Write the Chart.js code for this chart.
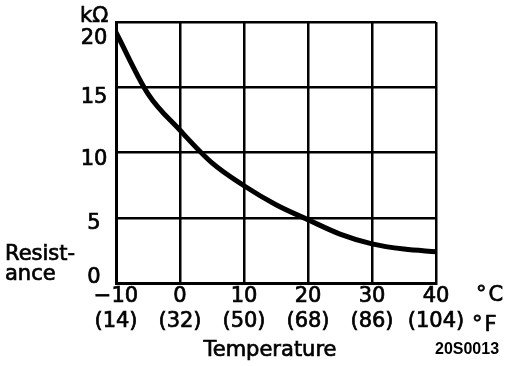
<!DOCTYPE html>
<html>
<head>
<meta charset="utf-8">
<script src="https://cdn.jsdelivr.net/npm/chart.js@4.4.1/dist/chart.umd.min.js"></script>
<style>
  html, body { margin: 0; padding: 0; background: #fff; }
</style>
</head>
<body>
<canvas id="chart" width="512" height="366"></canvas>
<script>
// thermistor curve, every 5 °C
const tempC = [-10, -5, 0, 5, 10, 15, 20, 25, 30, 35, 40];
const resistance = [19.2, 14.5, 11.7, 9.2, 7.45, 6.0, 4.85, 3.75, 3.0, 2.6, 2.4];

const xTicksC = ['\u221210', '0', '10', '20', '30', '40'];
const xTicksF = ['(14)', '(32)', '(50)', '(68)', '(86)', '(104)'];
const yTicks = [0, 5, 10, 15, 20];

const FONT = "'DejaVu Sans', sans-serif";
const STROKE = 0.7; // the scanned lettering is heavier than a regular face

// the y labels in the original sit a little below their grid lines
const yLabelShift = { 0: -5, 5: 6, 10: 7, 15: 10, 20: 17 };

function label(ctx, text, x, y) {
  ctx.strokeText(text, x, y);
  ctx.fillText(text, x, y);
}

const extraText = {
  id: 'extraText',
  afterDraw(chart) {
    const ctx = chart.ctx;
    const y = chart.scales.y;
    const area = chart.chartArea;
    ctx.save();
    ctx.fillStyle = '#000';
    ctx.strokeStyle = '#000';
    ctx.lineWidth = STROKE;
    ctx.font = '21px ' + FONT;
    ctx.textAlign = 'center';
    ctx.textBaseline = 'middle';
    yTicks.forEach(v => {
      label(ctx, String(v), 94, y.getPixelForValue(v) + yLabelShift[v]);
    });
    ctx.textBaseline = 'alphabetic';
    label(ctx, 'Temperature', (area.left + area.right) / 2 - 6, 356);
    ctx.textAlign = 'left';
    label(ctx, 'k\u03A9', 80, 22);
    label(ctx, 'Resist-', 5, 260);
    label(ctx, 'ance', 5, 280);
    ctx.letterSpacing = '2px';
    label(ctx, '\u00B0C', 476, 301);
    label(ctx, '\u00B0F', 472, 331);
    ctx.letterSpacing = '0px';
    ctx.font = "bold 16px 'Liberation Sans', Arial, sans-serif";
    ctx.fillText('20S0013', 435, 354);
    ctx.restore();
  }
};

new Chart(document.getElementById('chart').getContext('2d'), {
  type: 'line',
  data: {
    datasets: [{
      data: tempC.map((t, i) => ({ x: t, y: resistance[i] })),
      borderColor: '#000',
      borderWidth: 5,
      pointRadius: 0,
      cubicInterpolationMode: 'monotone',
      fill: false
    }]
  },
  options: {
    responsive: false,
    animation: false,
    devicePixelRatio: 1,
    layout: { padding: { left: 116, right: 76, top: 22, bottom: 2 } },
    plugins: { legend: { display: false }, tooltip: { enabled: false } },
    scales: {
      x: {
        type: 'linear',
        min: -10,
        max: 40,
        afterFit: s => { s.height = 81; },
        ticks: {
          stepSize: 10,
          color: '#000',
          padding: 1,
          maxRotation: 0,
          textStrokeColor: '#000',
          textStrokeWidth: STROKE,
          font: { family: FONT, size: 21 },
          callback: (v, i) => [xTicksC[i], xTicksF[i]]
        },
        grid: { color: '#000', lineWidth: 2.5, drawTicks: false },
        border: { color: '#000', width: 3 }
      },
      y: {
        min: 0,
        max: 20,
        afterFit: s => { s.width = 0; },
        ticks: { stepSize: 5, display: false },
        grid: { color: '#000', lineWidth: 2.5, drawTicks: false },
        border: { color: '#000', width: 3 }
      }
    }
  },
  plugins: [extraText]
});
</script>
</body>
</html>
